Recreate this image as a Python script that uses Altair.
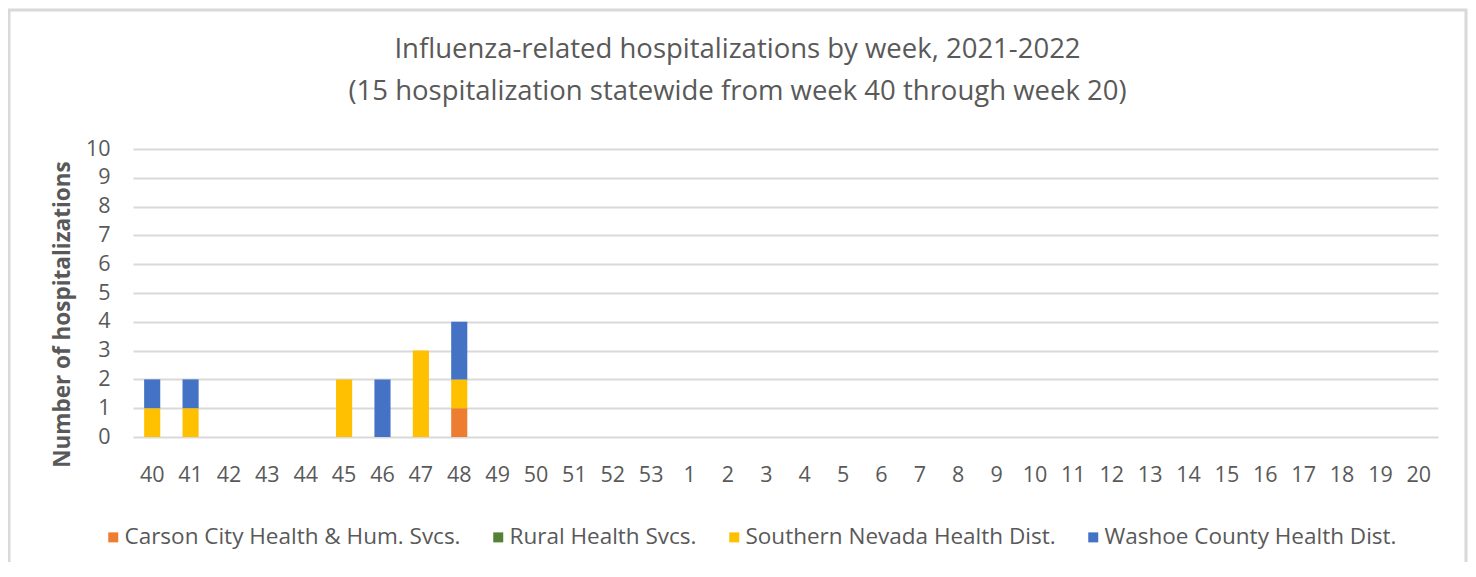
import altair as alt
import pandas as pd

weeks = ["40", "41", "42", "43", "44", "45", "46", "47", "48", "49", "50", "51", "52", "53",
         "1", "2", "3", "4", "5", "6", "7", "8", "9", "10", "11", "12", "13", "14", "15",
         "16", "17", "18", "19", "20"]
series = ["Carson City Health & Hum. Svcs.", "Rural Health Svcs.",
          "Southern Nevada Health Dist.", "Washoe County Health Dist."]
carson = [0, 0, 0, 0, 0, 0, 0, 0, 1] + [0] * 25
rural = [0] * 34
southern = [1, 1, 0, 0, 0, 2, 0, 3, 1] + [0] * 25
washoe = [1, 1, 0, 0, 0, 0, 2, 0, 2] + [0] * 25
colors = ["#ED7D31", "#548235", "#FFC000", "#4472C4"]

rows = []
for si, (name, vals) in enumerate(zip(series, [carson, rural, southern, washoe])):
    for w, v in zip(weeks, vals):
        rows.append({"week": w, "series": name, "value": v, "ord": si})
df = pd.DataFrame(rows)

FONT = "Open Sans"
GRAY = "#595959"

bars = alt.Chart(df).mark_bar().encode(
    x=alt.X("week:N", sort=weeks,
            scale=alt.Scale(paddingInner=0.58, paddingOuter=0.29),
            axis=alt.Axis(title=None, labelAngle=0, domain=False, ticks=False,
                          labelPadding=27, labelFontSize=21.5, labelColor=GRAY,
                          labelFont=FONT, grid=False)),
    y=alt.Y("value:Q", stack="zero",
            scale=alt.Scale(domain=[0, 10], nice=False),
            axis=alt.Axis(title="Number of hospitalizations", values=list(range(11)),
                          domain=False, ticks=False, labelPadding=23,
                          labelFontSize=21.5, labelColor=GRAY, labelFont=FONT,
                          titleFontSize=22.5, titleColor=GRAY, titleFont=FONT,
                          titleFontWeight="bold", titlePadding=11, titleY=165,
                          grid=True, gridColor="#d9d9d9", gridWidth=2)),
    color=alt.Color("series:N", sort=series,
                    scale=alt.Scale(domain=series, range=colors),
                    legend=alt.Legend(title=None, orient="none", direction="horizontal",
                                      legendX=-31, legendY=377,
                                      symbolType="square", symbolSize=100,
                                      symbolStrokeWidth=0, labelLimit=0,
                                      labelFontSize=22.5, labelColor=GRAY, labelFont=FONT,
                                      columnPadding=26, labelOffset=0)),
    order=alt.Order("ord:Q", sort="ascending"),
)

border = alt.Chart(pd.DataFrame({"a": [0]})).mark_rect(
    fill=None, stroke="#d9d9d9", strokeWidth=3
).encode(
    x=alt.value(-124), x2=alt.value(1333), y=alt.value(-139), y2=alt.value(600)
)

chart = alt.layer(bars, border).properties(
    width=1305, height=288,
    autosize=alt.AutoSizeParams(type="none"),
    padding={"left": 125, "top": 141, "right": 30, "bottom": 125},
    title=alt.Title(
        ["Influenza-related hospitalizations by week, 2021-2022",
         "(15 hospitalization statewide from week 40 through week 20)"],
        fontSize=27.5, font=FONT, fontWeight="normal", color=GRAY,
        anchor="middle", dx=-48, offset=-97, lineHeight=42),
).configure_view(stroke=None)

chart.save("out.html", embed_options={"renderer": "svg", "actions": False})
